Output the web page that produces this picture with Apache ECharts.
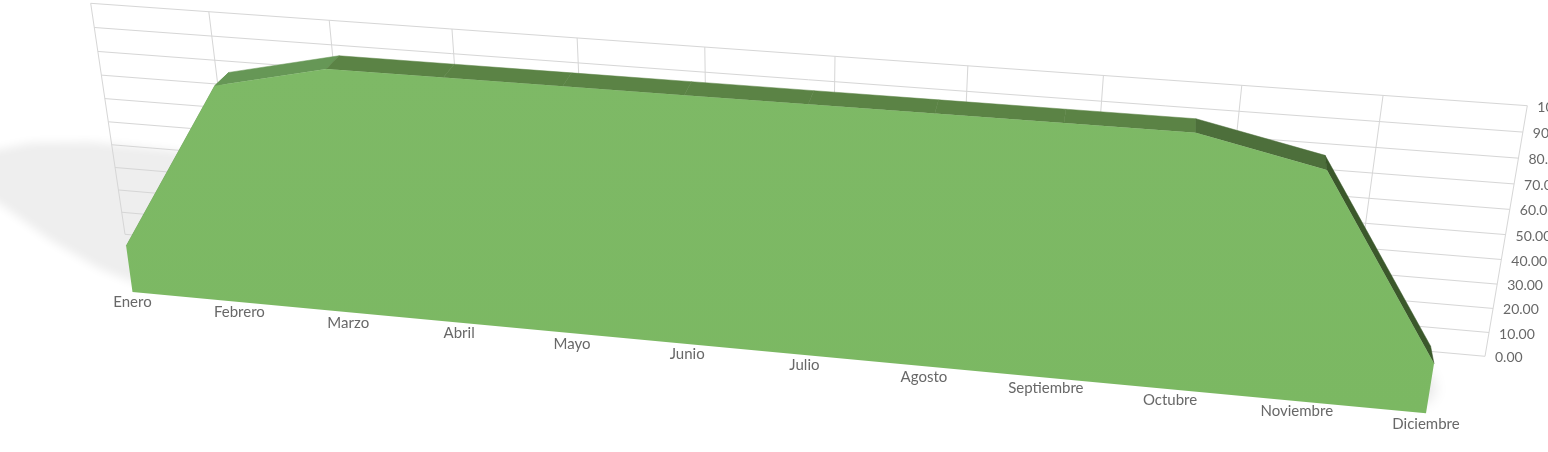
<!DOCTYPE html>
<html><head><meta charset='utf-8'>
<style>html,body{margin:0;padding:0;background:#fff;overflow:hidden}#chart{width:1548px;height:452px}</style>
<script src='https://cdn.jsdelivr.net/npm/echarts@6/dist/echarts.min.js'></script>
</head><body><div id='chart'></div>
<script>
var meses = ['Enero','Febrero','Marzo','Abril','Mayo','Junio','Julio','Agosto','Septiembre','Octubre','Noviembre','Diciembre'];
var valores = [20,90,100,100,100,100,100,100,100,100,90,20];
var yTicks = [0,10,20,30,40,50,60,70,80,90,100];
// colour of the top strip leaving each month, Enero->Febrero is hidden
var coloresTapa = ['#6a9a55','#669756','#5b8345','#5b8345','#5b8345','#5b8345','#5b8345','#5b8345','#5b8345','#4d6f3b','#3b582b'];

var W = 1548, H = 452;
// screen corners of the planes: bottom-left, bottom-right, top-right, top-left
var cuadFrente = [[132.5,292],[1426,413.2],[1468,152.8],[99.3,52.2]];
var cuadPared = [[125,234.3],[1485,356.3],[1527.3,105.7],[90.7,3.3]];
var fuga = [1197,-850], fondo = 0.0143; // depth vanishing point, area thickness

function homografia(q) {
  var dx1 = q[1][0]-q[2][0], dx2 = q[3][0]-q[2][0], sx = q[0][0]-q[1][0]+q[2][0]-q[3][0];
  var dy1 = q[1][1]-q[2][1], dy2 = q[3][1]-q[2][1], sy = q[0][1]-q[1][1]+q[2][1]-q[3][1];
  var d = dx1*dy2-dx2*dy1;
  var g = (sx*dy2-dx2*sy)/d, h = (dx1*sy-sx*dy1)/d;
  var a = q[1][0]-q[0][0]+g*q[1][0], b = q[3][0]-q[0][0]+h*q[3][0], c = q[0][0];
  var e = q[1][1]-q[0][1]+g*q[1][1], f = q[3][1]-q[0][1]+h*q[3][1], k = q[0][1];
  return function (p) { // flat pixel from the axes -> screen
    var u = p[0]/W, v = 1-p[1]/H, w = g*u+h*v+1;
    return [(a*u+b*v+c)/w, (e*u+f*v+k)/w];
  };
}
var frente = homografia(cuadFrente), pared = homografia(cuadPared);
function atras(p) { return [p[0]+fondo*(fuga[0]-p[0]), p[1]+fondo*(fuga[1]-p[1])]; }

var linea = {stroke:'#d6d6d6', lineWidth:1};
var textoEje = {fontFamily:'Lato', fill:'#686868'};

function renderHoriz(params, api) {
  var a = pared(api.coord([0, api.value(0)])), b = pared(api.coord([11, api.value(0)]));
  return {type:'line', shape:{x1:a[0],y1:a[1],x2:b[0],y2:b[1]}, style:linea, silent:true};
}
function renderVert(params, api) {
  var a = pared(api.coord([api.value(0), 0])), b = pared(api.coord([api.value(0), 100]));
  return {type:'line', shape:{x1:a[0],y1:a[1],x2:b[0],y2:b[1]}, style:linea, silent:true};
}
function renderTapa(params, api) {
  var i = params.dataIndex;
  if (i >= valores.length-1) return null;
  var a = frente(api.coord([i, valores[i]])), b = frente(api.coord([i+1, valores[i+1]]));
  return {type:'polygon', shape:{points:[a,b,atras(b),atras(a)]},
    style:{fill:coloresTapa[i], stroke:coloresTapa[i], lineWidth:0.5}};
}
function renderFrente(params, api) {
  if (params.dataIndex > 0) return null;
  var pts = [frente(api.coord([0,0]))];
  valores.forEach(function (v, i) { pts.push(frente(api.coord([i, v]))); });
  pts.push(frente(api.coord([11,0])));
  return {type:'polygon', shape:{points:pts}, style:{
    fill:new echarts.graphic.LinearGradient(0,0,0,1,[{offset:0,color:'#7eb966'},{offset:1,color:'#7bb862'}])}};
}
function renderMes(params, api) {
  var p = frente(api.coord([params.dataIndex, 0]));
  return {type:'text', x:p[0], y:p[1]+10.5, style:Object.assign({text:meses[params.dataIndex], align:'center', verticalAlign:'middle', fontSize:15}, textoEje)};
}
function renderTick(params, api) {
  var p = pared(api.coord([11, api.value(0)]));
  return {type:'text', x:p[0]+10, y:p[1]+1.5, style:Object.assign({text:api.value(0).toFixed(2), align:'left', verticalAlign:'middle', fontSize:14}, textoEje)};
}

// floor shadow: shapes sit off the canvas so only their blurred shadow shows
var fuera = 3000;
function sombra(puntos, blur, color) {
  return {type:'polygon', z:0, silent:true,
    shape:{points:puntos.map(function (p) { return [p[0]-fuera, p[1]]; })},
    style:{fill:'#000', shadowBlur:blur, shadowColor:color, shadowOffsetX:fuera}};
}

var chart = echarts.init(document.getElementById('chart'), null, {renderer:'canvas'});
chart.setOption({
  animation:false,
  backgroundColor:'#fff',
  grid:{left:0,right:0,top:0,bottom:0},
  xAxis:{type:'category',data:meses,boundaryGap:false,show:false},
  yAxis:{type:'value',min:0,max:100,interval:10,show:false},
  graphic:[
    sombra([[-40,175],[-15,152],[30,143],[90,142],[170,150],[260,165],[260,270],[135,283],[100,269],[50,240],[0,204],[-25,190]], 10, '#eeeeee'),
    sombra([[1405,368],[1430,372],[1436,392],[1425,404],[1405,400]], 14, '#e6e6e6')
  ],
  series:[
    {type:'custom',name:'pared-h',z:2,silent:true,renderItem:renderHoriz,data:yTicks.map(function(t){return [t];})},
    {type:'custom',name:'pared-v',z:2,silent:true,renderItem:renderVert,data:meses.map(function(m,i){return [i];})},
    {type:'custom',name:'tapa',z:3,silent:true,renderItem:renderTapa,data:valores.map(function(v,i){return [i,v];})},
    {type:'custom',name:'frente',z:4,silent:true,renderItem:renderFrente,data:valores.map(function(v,i){return [i,v];})},
    {type:'custom',name:'meses',z:5,silent:true,renderItem:renderMes,data:valores.map(function(v,i){return [i];})},
    {type:'custom',name:'ticks',z:5,silent:true,renderItem:renderTick,data:yTicks.map(function(t){return [t];})}
  ]
});
</script></body></html>
